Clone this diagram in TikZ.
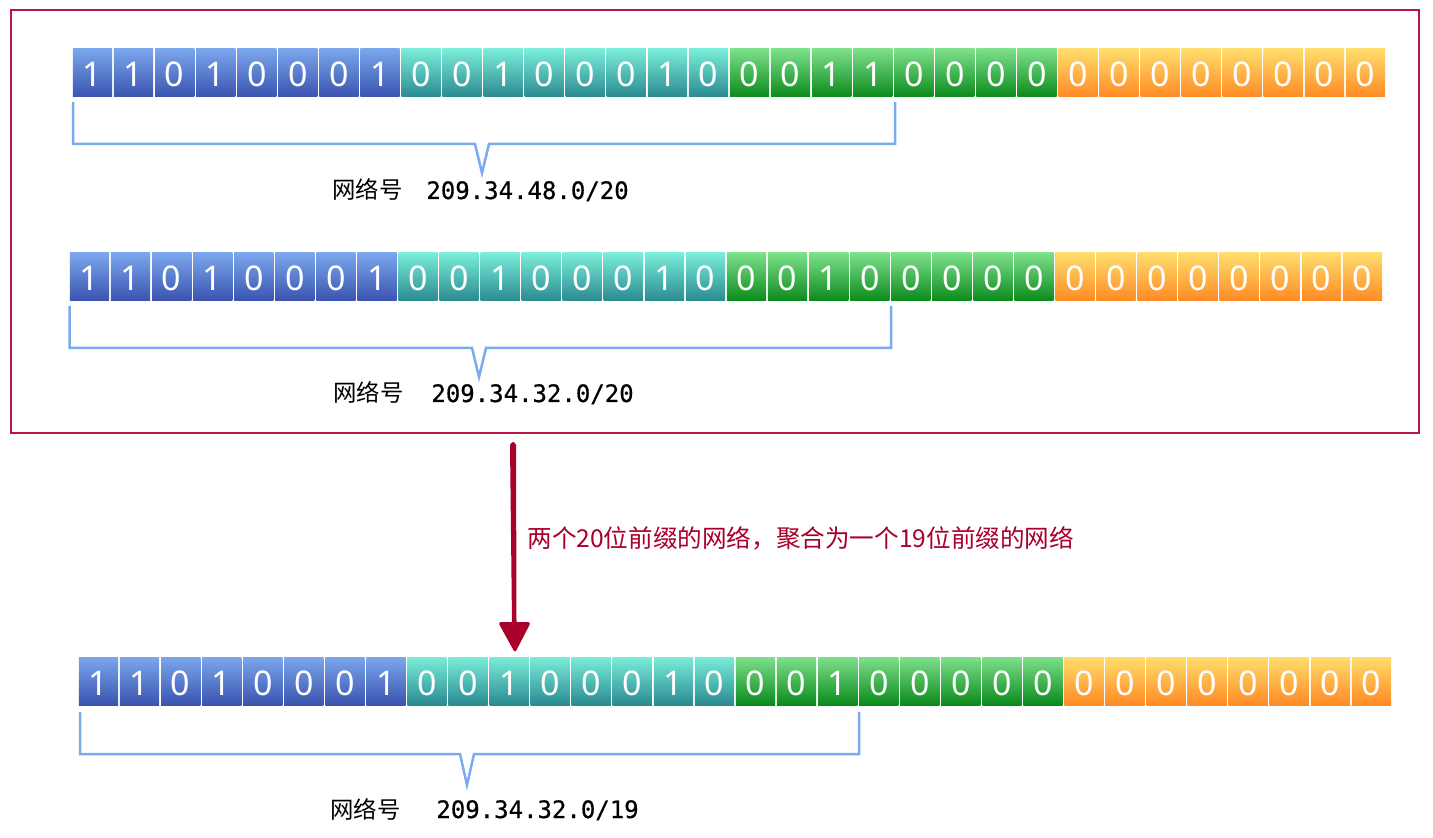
\documentclass[tikz,border=0pt]{standalone}
\usepackage{fontspec}
\setmainfont{Noto Sans}
\newfontfamily\cjk{Noto Sans CJK SC}
\newfontfamily\mono[FakeBold=0.6]{DejaVu Sans Mono}
\usetikzlibrary{calc}
\definecolor{bluetop}{HTML}{7BA7EC}
\definecolor{bluebot}{HTML}{3A53B0}
\definecolor{tealtop}{HTML}{7AEDD9}
\definecolor{tealbot}{HTML}{2A8A91}
\definecolor{greentop}{HTML}{7DE08A}
\definecolor{greenbot}{HTML}{0B8A1C}
\definecolor{orangetop}{HTML}{FFDD6C}
\definecolor{orangebot}{HTML}{FF8A25}
\definecolor{framered}{HTML}{B8163F}
\definecolor{arrowred}{HTML}{A8002A}
\definecolor{bracecol}{HTML}{7AAAF0}
\tikzset{
  gblue/.style={top color=bluetop,bottom color=bluebot},
  gteal/.style={top color=tealtop,bottom color=tealbot},
  ggreen/.style={top color=greentop,bottom color=greenbot},
  gorange/.style={top color=orangetop,bottom color=orangebot},
  bitlabel/.style={inner sep=0pt,anchor=base,text=white,font=\fontsize{17}{20}\selectfont},
  bracepath/.style={draw=bracecol,line width=1.25pt,line join=miter},
  cjklabel/.style={inner sep=0pt,anchor=base west,font=\cjk\fontsize{11.7}{14}\selectfont},
  monolabel/.style={inner sep=0pt,anchor=base west,font=\mono\fontsize{12}{14}\selectfont},
}
\newcommand\bitrow[4]{%
  \foreach \b [count=\i] in {#4} {
    \pgfmathsetmacro\xa{#2+(\i-1)*41.0625}
    \pgfmathsetmacro\xb{\xa+41.0625}
    \ifnum\i<9 \def\grp{gblue}\else
      \ifnum\i<17 \def\grp{gteal}\else
        \ifnum\i<25 \def\grp{ggreen}\else \def\grp{gorange}\fi\fi\fi
    \shade[\grp] (\xa+0.9,#3) rectangle (\xb-0.9,#3+48);
    \node[bitlabel] (#1c\i) at ({(\xa+\xb)/2},#3+38) {\b};
  }%
}
\newcommand\bracket[7]{% left, top, bottom, right, notchL, tipx, tipy
  \draw[bracepath] (#1,#2) -- (#1,#3) -- (#5,#3) -- (#6,#7) -- (#5+14,#3) -- (#4,#3) -- (#4,#2);
}
\begin{document}
\begin{tikzpicture}[x=0.5pt,y=-0.5pt]
\useasboundingbox (0,0) rectangle (1433,838);
% frame
\node[draw=framered,line width=1pt,inner sep=0pt,minimum width=704pt,minimum height=211.5pt,anchor=north west] (frame) at (9.5,9.5) {};
% rows
\bitrow{ra}{72}{49}{1,1,0,1,0,0,0,1,0,0,1,0,0,0,1,0,0,0,1,1,0,0,0,0,0,0,0,0,0,0,0,0}
\bitrow{rb}{69}{253}{1,1,0,1,0,0,0,1,0,0,1,0,0,0,1,0,0,0,1,0,0,0,0,0,0,0,0,0,0,0,0,0}
\bitrow{rc}{78}{657}{1,1,0,1,0,0,0,1,0,0,1,0,0,0,1,0,0,0,1,0,0,0,0,0,0,0,0,0,0,0,0,0}
% brackets
\bracket{73}{102}{144}{895}{475}{482}{173}
\bracket{69.5}{306}{348}{891}{472}{479}{377}
\bracket{80}{712}{754}{859}{460}{467}{785}
% labels
\node[cjklabel] (la1) at (332,199) {网络号};
\node[monolabel] (lb1) at (426,199) {209.34.48.0/20};
\node[cjklabel] (la2) at (333,402) {网络号};
\node[monolabel] (lb2) at (431,402) {209.34.32.0/20};
\node[cjklabel] (la3) at (330,818) {网络号};
\node[monolabel] (lb3) at (436,818) {209.34.32.0/19};
% arrow
\coordinate (arrS) at (513,443);
\coordinate (arrE) at (515,653);
\fill[arrowred] ($(arrS)+(-3,2)$) .. controls ($(arrS)+(-1,-2)$) and ($(arrS)+(1,-2)$) .. ($(arrS)+(3,2)$)
   -- ($(arrE)+(1.5,-30)$) -- ($(arrE)+(-3,-30)$) -- cycle;
\fill[arrowred,rounded corners=1.5pt] ($(arrE)+(-17,-31)$) -- ($(arrE)+(16,-31)$) -- (arrE) -- cycle;
\node[inner sep=0pt,anchor=base west,text=arrowred,font=\cjk\fontsize{12.3}{14}\selectfont] (note) at (527,547) {两个20位前缀的网络，聚合为一个19位前缀的网络};
\end{tikzpicture}
\end{document}
